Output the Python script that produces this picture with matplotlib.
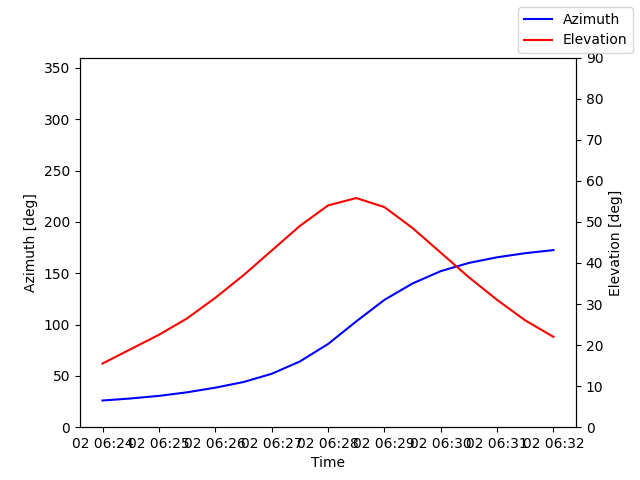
import datetime as dt
import matplotlib
matplotlib.use("Agg")
import matplotlib.pyplot as plt
import matplotlib.dates as mdates

start = dt.datetime(2024, 1, 2, 6, 24, 0)
times = [start + dt.timedelta(seconds=30 * i) for i in range(17)]
azimuth = [26, 28, 30.5, 34, 38.5, 44, 52, 64, 81, 103, 124, 140, 152, 160, 165.5, 169.5, 172.5]
elevation = [15.5, 19, 22.5, 26.5, 31.5, 37, 43, 49, 54, 55.8, 53.6, 48.5, 42.5, 36.5, 31, 26, 22]

fig, ax1 = plt.subplots(figsize=(6.4, 4.8), dpi=100)
ax1.plot(times, azimuth, color='blue', label='Azimuth')
ax1.set_ylim(0, 360)
ax1.set_xlabel('Time')
ax1.set_ylabel('Azimuth [deg]')
ax1.xaxis.set_major_formatter(mdates.DateFormatter('%d %H:%M'))

ax2 = ax1.twinx()
ax2.plot(times, elevation, color='red', label='Elevation')
ax2.set_ylim(0, 90)
ax2.set_ylabel('Elevation [deg]')

fig.legend()
plt.savefig('out.png')
